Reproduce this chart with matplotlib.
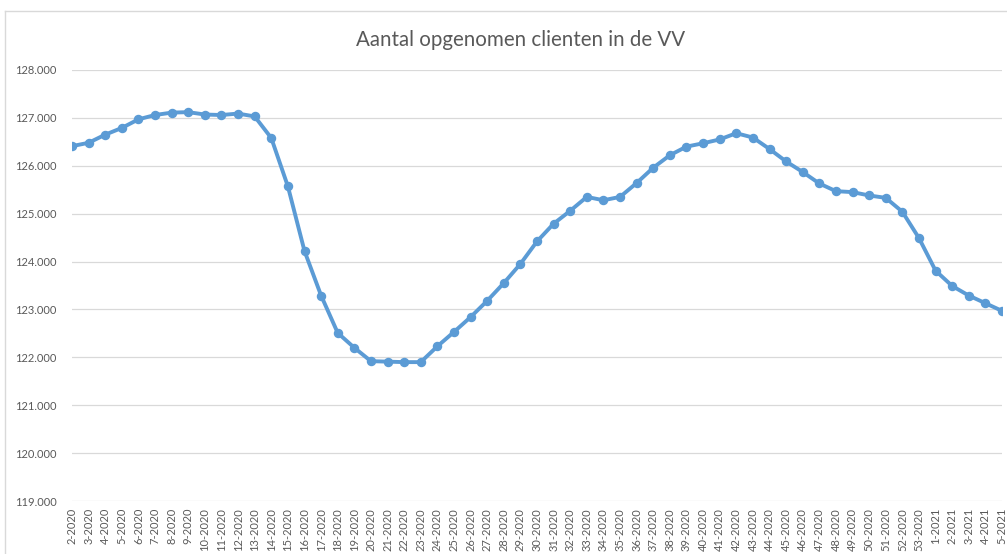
import matplotlib.pyplot as plt
from matplotlib.lines import Line2D
from matplotlib.ticker import FuncFormatter

plt.rcParams['font.family'] = ['Lato', 'DejaVu Sans']

weeks = [f"{w}-2020" for w in range(2, 54)] + [f"{w}-2021" for w in range(1, 6)]
clients = [
    126410, 126480, 126650, 126790, 126970, 127060, 127110, 127120, 127070, 127060,
    127090, 127030, 126580, 125570, 124220, 123290, 122510, 122200, 121920, 121910,
    121900, 121900, 122230, 122530, 122840, 123180, 123550, 123950, 124420, 124790,
    125060, 125350, 125280, 125350, 125640, 125960, 126220, 126400, 126470, 126550,
    126680, 126590, 126350, 126090, 125870, 125630, 125470, 125450, 125380, 125330,
    125040, 124490, 123810, 123490, 123290, 123130, 122970,
]
yticks = list(range(119000, 128001, 1000))

W, H = 1007, 554
fig = plt.figure(figsize=(W / 100, H / 100), dpi=100)
ax = fig.add_axes([72 / W, 1 - 501 / H, 930 / W, 431 / H])

x = list(range(len(weeks)))
ax.plot(x, clients, color='#5B9BD5', lw=2.8, marker='o', ms=5.8,
        solid_capstyle='round', solid_joinstyle='round', zorder=3)

ax.set_xlim(0, len(weeks) - 1)
ax.set_ylim(119000, 128000)
ax.set_yticks(yticks)
ax.yaxis.set_major_formatter(FuncFormatter(lambda v, p: f"{int(v):,}".replace(',', '.')))
ax.set_xticks(x)
ax.set_xticklabels(weeks, rotation=90)
ax.tick_params(length=0, labelsize=8, colors='#595959')
ax.tick_params(axis='y', pad=11)
ax.tick_params(axis='x', pad=5)
ax.grid(axis='y', color='#D9D9D9', lw=0.9)
ax.set_axisbelow(True)
for s in ax.spines.values():
    s.set_visible(False)

fig.text(521 / W, 1 - 40 / H, "Aantal opgenomen clienten in de VV",
         ha='center', va='center', fontsize=14.8, color='#595959')

# chart border (top and left visible)
fig.add_artist(Line2D([5 / W, 1], [1 - 11 / H, 1 - 11 / H], color='#D9D9D9', lw=1))
fig.add_artist(Line2D([5 / W, 5 / W], [0, 1 - 11 / H], color='#D9D9D9', lw=1))

fig.savefig("out.png", dpi=100)
